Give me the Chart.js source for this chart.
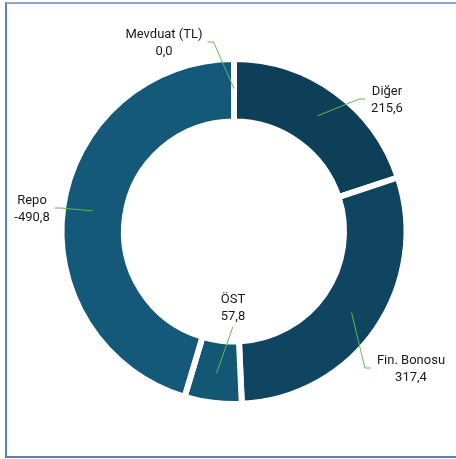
<!DOCTYPE html>
<html>
<head>
<meta charset="utf-8">
<script src="https://cdn.jsdelivr.net/npm/chart.js@4.4.1/dist/chart.umd.min.js"></script>
<style>
  html, body { margin: 0; padding: 0; background: #fff; }
  #wrap { position: relative; width: 456px; height: 459px; overflow: hidden; }
  #frame { position: absolute; left: 5px; top: 2px; width: 470px; height: 452px;
           border-left: 2px solid #5a80b4; border-top: 2px solid #86a8d2; border-bottom: 2px solid #5a80b4; }
  canvas { position: absolute; left: 0; top: 0; }
</style>
</head>
<body>
<div id="wrap">
  <div id="frame"></div>
  <canvas id="pie" width="456" height="459"></canvas>
</div>
<script>
// Veriler (milyar TL)
var labels  = ['Mevduat (TL)', 'Diğer', 'Fin. Bonosu', 'ÖST', 'Repo'];
var values  = [0.0, 215.6, 317.4, 57.8, -490.8];
var texts   = ['0,0', '215,6', '317,4', '57,8', '-490,8'];
var colors  = ['#14587a', '#0d4058', '#0f4560', '#135775', '#14587a'];

// Etiket yerleşimi: merkeze göre kutu ortası (px) ve çizginin çıktığı taraf
var labelPos = [
  { dx: -70,  dy: -188, side: 'right'  },
  { dx: 153,  dy: -131, side: 'left'   },
  { dx: 177,  dy: 138,  side: 'left'   },
  { dx: -1,   dy: 77,   side: 'bottom' },
  { dx: -202, dy: -22,  side: 'right'  }
];

var FONT = '13px Roboto, "Liberation Sans", sans-serif';

var leaderPlugin = {
  id: 'leaders',
  afterDatasetsDraw: function (chart) {
    var ctx  = chart.ctx;
    var arcs = chart.getDatasetMeta(0).data;
    ctx.save();
    ctx.font = FONT;
    ctx.textAlign = 'center';
    ctx.textBaseline = 'middle';
    arcs.forEach(function (arc, i) {
      var p   = arc.getProps(['x', 'y', 'startAngle', 'endAngle', 'innerRadius', 'outerRadius'], true);
      var mid = (p.startAngle + p.endAngle) / 2;
      var rr  = (p.innerRadius + p.outerRadius) / 2 + 1.5;
      var ax  = p.x + Math.cos(mid) * rr;
      var ay  = p.y + Math.sin(mid) * rr;

      var lp = labelPos[i];
      var cx = p.x + lp.dx, cy = p.y + lp.dy;
      var w  = Math.max(ctx.measureText(labels[i]).width, ctx.measureText(texts[i]).width);

      // kılavuz çizgi
      ctx.strokeStyle = '#62b94f';
      ctx.lineWidth = 1;
      ctx.beginPath();
      if (lp.side === 'right') {
        var sx = cx + w / 2 + 5;
        ctx.moveTo(sx, cy - 1.5); ctx.lineTo(sx + 6, cy - 1.5);
      } else if (lp.side === 'left') {
        var lx = cx - w / 2 - 6;
        ctx.moveTo(lx, cy - 1.5); ctx.lineTo(lx - 6, cy - 1.5);
      } else {
        ctx.moveTo(cx, cy + 18);
      }
      ctx.lineTo(ax, ay);
      ctx.stroke();

      ctx.fillStyle = '#1a1a1a';
      ctx.fillText(labels[i], cx, cy - 8.5);
      ctx.fillText(texts[i], cx, cy + 8.5);
    });
    ctx.restore();
  }
};

new Chart(document.getElementById('pie'), {
  type: 'doughnut',
  data: {
    labels: labels,
    datasets: [{
      data: values.map(function (v) { return Math.abs(v); }),
      backgroundColor: colors,
      borderColor: '#ffffff',
      borderWidth: 6,
      borderJoinStyle: 'miter'
    }]
  },
  options: {
    responsive: false,
    animation: false,
    radius: 172.5,
    cutout: '63.8%',
    layout: { padding: { left: 12, right: 0, top: 4, bottom: 0 } },
    plugins: {
      legend: { display: false },
      tooltip: { enabled: false }
    }
  },
  plugins: [leaderPlugin]
});
</script>
</body>
</html>
